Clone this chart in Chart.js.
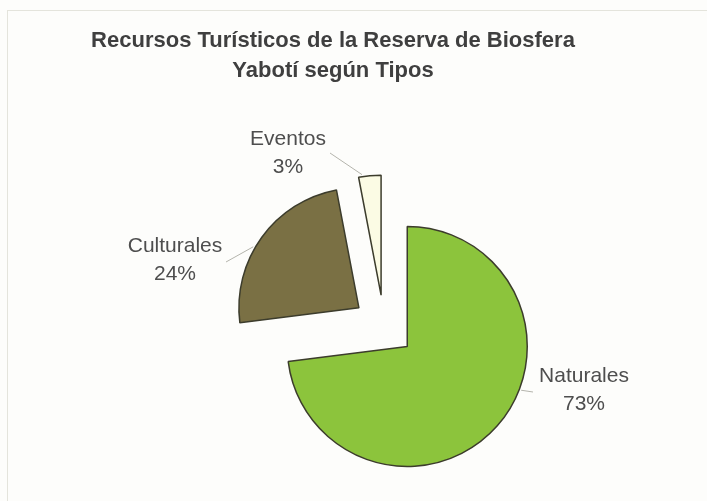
<!DOCTYPE html>
<html>
<head>
<meta charset="utf-8">
<script src="https://cdn.jsdelivr.net/npm/chart.js@4/dist/chart.umd.min.js"></script>
<style>
  html, body { margin: 0; padding: 0; background: #fdfdfb; }
  #wrap { position: relative; width: 707px; height: 501px; }
</style>
</head>
<body>
<div id="wrap"><canvas id="pie" width="707" height="501"></canvas></div>
<script>
// chart data
const TITLE_LINES = ['Recursos Turísticos de la Reserva de Biosfera', 'Yabotí según Tipos'];
const CATEGORIES = ['Naturales', 'Culturales', 'Eventos'];
const PERCENTS = [73, 24, 3];
const COLORS = ['#8cc43c', '#7a7044', '#fbfbe4'];

// where each label sits (relative to the pie centre) and where its leader line touches the slice
const LABEL_LAYOUT = [
  { dx: 200, dy: 64, lineFrom: 21, lineTo: [149, 66] },
  { dx: -209, dy: -66, lineFrom: 210, lineTo: [-158, -64] },
  { dx: -96, dy: -173, lineFrom: 261, lineTo: [-54, -173] }
];
const EXPLODE = 31;

const deg = a => a * Math.PI / 180;

// exploded slices: every arc pushed out along its mid angle by the same distance
const explode = {
  id: 'explode',
  beforeDatasetDraw(chart, args) {
    const ctx = chart.ctx;
    args.meta.data.forEach(arc => {
      const p = arc.getProps(['startAngle', 'endAngle'], true);
      const mid = (p.startAngle + p.endAngle) / 2;
      ctx.save();
      ctx.translate(Math.cos(mid) * EXPLODE, Math.sin(mid) * EXPLODE);
      arc.draw(ctx, chart.chartArea);
      ctx.restore();
    });
    return false;
  }
};

// title, frame and outside labels with leader lines
const pieLabels = {
  id: 'pieLabels',
  beforeDraw(chart) {
    const ctx = chart.ctx;
    ctx.save();
    ctx.strokeStyle = '#e4e4dc';
    ctx.lineWidth = 1;
    ctx.strokeRect(7.5, 10.5, 720, 520);
    ctx.restore();
  },
  afterDatasetsDraw(chart) {
    const ctx = chart.ctx;
    const meta = chart.getDatasetMeta(0);
    ctx.save();

    // title
    ctx.fillStyle = '#3f3f3f';
    ctx.font = 'bold 22px "Liberation Sans", Arial, sans-serif';
    ctx.textAlign = 'center';
    ctx.textBaseline = 'middle';
    TITLE_LINES.forEach((t, i) => ctx.fillText(t, 333, 41 + i * 30));

    meta.data.forEach((arc, i) => {
      const p = arc.getProps(['x', 'y', 'startAngle', 'endAngle', 'outerRadius'], true);
      const mid = (p.startAngle + p.endAngle) / 2;
      const cx = p.x + Math.cos(mid) * EXPLODE;
      const cy = p.y + Math.sin(mid) * EXPLODE;
      const lay = LABEL_LAYOUT[i];

      // leader line
      const a = deg(lay.lineFrom);
      ctx.strokeStyle = '#b4b4ac';
      ctx.lineWidth = 1;
      ctx.beginPath();
      ctx.moveTo(cx + Math.cos(a) * (p.outerRadius + 2), cy + Math.sin(a) * (p.outerRadius + 2));
      ctx.lineTo(p.x + lay.lineTo[0], p.y + lay.lineTo[1]);
      ctx.stroke();

      // text
      ctx.fillStyle = '#4e4e4e';
      ctx.font = '21px "Liberation Sans", Arial, sans-serif';
      ctx.fillText(CATEGORIES[i], p.x + lay.dx, p.y + lay.dy - 14);
      ctx.fillText(PERCENTS[i] + '%', p.x + lay.dx, p.y + lay.dy + 14);
    });
    ctx.restore();
  }
};

new Chart(document.getElementById('pie'), {
  type: 'pie',
  data: {
    labels: CATEGORIES,
    datasets: [{
      data: PERCENTS,
      backgroundColor: COLORS,
      borderColor: '#3c3c2c',
      borderWidth: 1.5,
      offset: 0,
      hoverOffset: 0
    }]
  },
  options: {
    responsive: false,
    animation: false,
    radius: 120,
    layout: { padding: { top: 151, bottom: 0, left: 61, right: 0 } },
    plugins: {
      legend: { display: false },
      title: { display: false },
      tooltip: { enabled: false }
    }
  },
  plugins: [explode, pieLabels]
});
</script>
</body>
</html>
